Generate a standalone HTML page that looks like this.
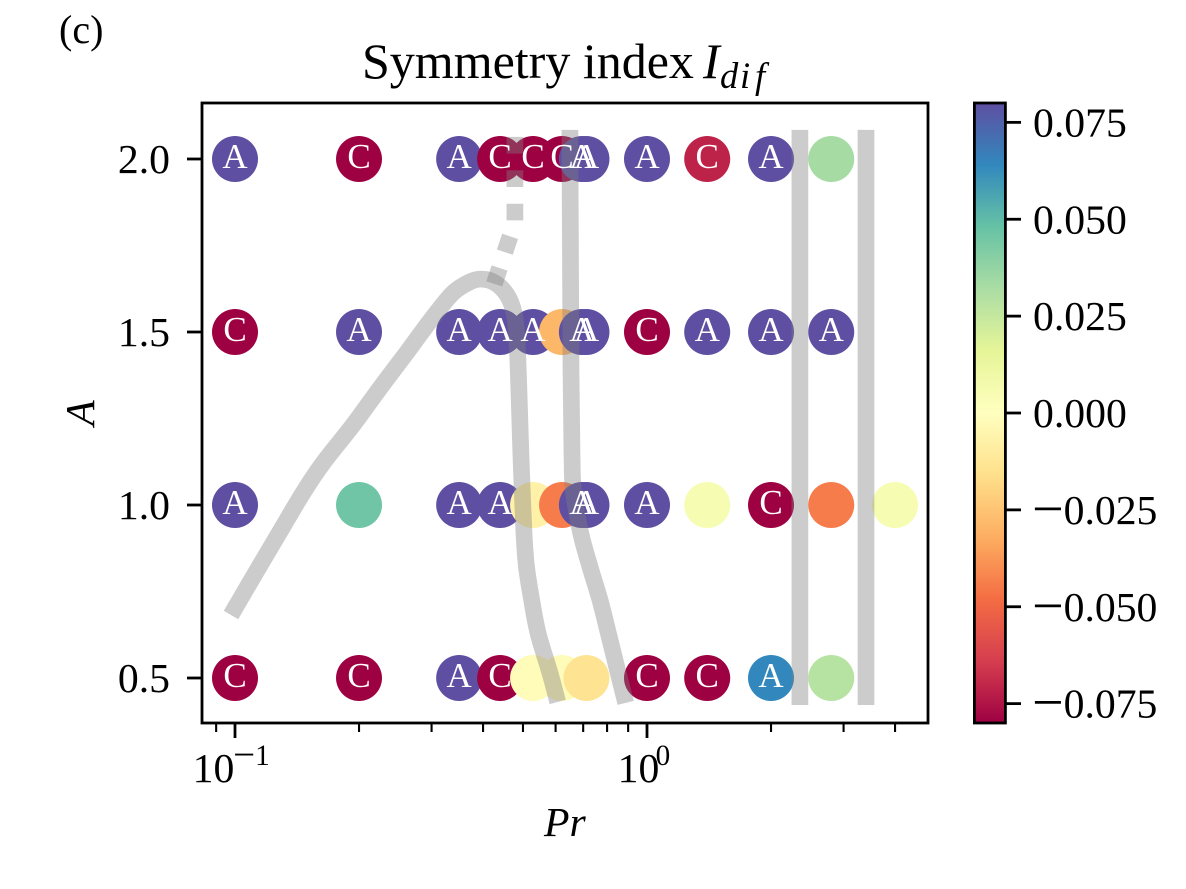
<!DOCTYPE html>
<html lang="en">
<head>
<meta charset="utf-8">
<title>Symmetry index chart</title>
<style>
html,body{margin:0;padding:0;background:#fff;}
svg{display:block;font-family:"Liberation Serif",serif;}
</style>
</head>
<body>
<svg id="chart" xmlns="http://www.w3.org/2000/svg" width="1186" height="889" viewBox="0 0 1186 889">
  <defs>
    <linearGradient id="cbar-gradient" x1="0" y1="1" x2="0" y2="0"></linearGradient>
  </defs>
  <rect x="0" y="0" width="1186" height="889" fill="#ffffff"/>
  <text x="59" y="43" font-size="40">(c)</text>
  <text x="362" y="78" font-size="50">Symmetry index</text>
  <text x="703" y="78" font-size="50" font-style="italic">I</text>
  <text y="88" font-size="36.5" font-style="italic"><tspan x="720">d</tspan><tspan x="740">i</tspan><tspan x="755">f</tspan></text>
  <text x="544" y="836" font-size="41.7" font-style="italic">Pr</text>
  <text transform="translate(94,413) rotate(-90)" text-anchor="middle" font-size="41.7" font-style="italic">A</text>
  <g id="circles"></g>
  <g id="lines"></g>
  <g id="labels"></g>
  <rect x="202" y="103" width="726" height="620" fill="none" stroke="#000" stroke-width="2.8"/>
  <g id="ticks"></g>
  <rect x="974.4" y="103" width="31" height="620" fill="url(#cbar-gradient)" stroke="#000" stroke-width="2.8"/>
  <g id="cbar-ticks"></g>
</svg>
<script>
// ---- data ----
const pointPr = [
  0.1, 0.2, 0.35, 0.44, 0.529, 0.622, 0.695, 0.713, 1, 1.4, 2, 2.8,
  0.1, 0.2, 0.35, 0.44, 0.529, 0.622, 0.695, 0.713, 1, 1.4, 2, 2.8,
  0.1, 0.2, 0.35, 0.44, 0.529, 0.622, 0.695, 0.713, 1, 1.4, 2, 2.8, 4,
  0.1, 0.2, 0.35, 0.44, 0.529, 0.622, 0.713, 1, 1.4, 2, 2.8
];
const pointA = [
  2, 2, 2, 2, 2, 2, 2, 2, 2, 2, 2, 2,
  1.5, 1.5, 1.5, 1.5, 1.5, 1.5, 1.5, 1.5, 1.5, 1.5, 1.5, 1.5,
  1, 1, 1, 1, 1, 1, 1, 1, 1, 1, 1, 1, 1,
  0.5, 0.5, 0.5, 0.5, 0.5, 0.5, 0.5, 0.5, 0.5, 0.5, 0.5
];
const pointIndex = [
  0.08, -0.08, 0.08, -0.08, -0.08, -0.08, 0.08, 0.08, 0.08, -0.071, 0.08, 0.033,
  -0.08, 0.08, 0.08, 0.08, 0.08, -0.029, 0.08, 0.08, -0.08, 0.08, 0.08, 0.08,
  0.08, 0.046, 0.08, 0.08, -0.007, -0.044, 0.08, 0.08, 0.08, 0.005, -0.08, -0.044, 0.005,
  -0.08, -0.08, 0.08, -0.08, -0.002, -0.002, -0.014, -0.08, -0.08, 0.064, 0.029
];
const pointLabel = [
  'A', 'C', 'A', 'C', 'C', 'C', 'A', 'A', 'A', 'C', 'A', '',
  'C', 'A', 'A', 'A', 'A', '', 'A', 'A', 'C', 'A', 'A', 'A',
  'A', '', 'A', 'A', '', '', 'A', 'A', 'A', '', 'C', '', '',
  'C', 'C', 'A', 'C', '', '', '', 'C', 'C', 'A', ''
];
const curve1Pr = [0.0978, 0.1108, 0.1286, 0.1462, 0.1635, 0.1934, 0.2249, 0.2616, 0.3024, 0.3382, 0.3719, 0.3977, 0.4276, 0.4575, 0.4757, 0.4836, 0.4891, 0.4948, 0.503, 0.5099, 0.525, 0.5438, 0.5815, 0.607];
const curve1A = [0.682, 0.793, 0.923, 1.035, 1.121, 1.231, 1.338, 1.442, 1.543, 1.613, 1.645, 1.653, 1.642, 1.607, 1.555, 1.477, 1.324, 1.13, 0.919, 0.821, 0.725, 0.63, 0.514, 0.431];
const curve2Pr = [0.65, 0.654, 0.658, 0.663, 0.6904, 0.7272, 0.7691, 0.813, 0.8877];
const curve2A = [2.084, 1.39, 1.13, 1.04, 0.919, 0.821, 0.725, 0.61, 0.428];
const curve3Pr = [0.478, 0.478, 0.425];
const curve3A = [2.064, 1.818, 1.636];
const line4Pr = [2.35, 2.35];
const line4A = [2.084, 0.422];
const line5Pr = [3.40, 3.40];
const line5A = [2.084, 0.422];
const yTickValues = [0.5, 1, 1.5, 2];
const yTickLabels = ['0.5', '1.0', '1.5', '2.0'];
const xMajorValues = [0.1, 1];
const xMajorBase = ['10', '10'];
const xMajorExp = ['\u22121', '0'];
const xMinorValues = [0.09, 0.2, 0.3, 0.4, 0.5, 0.6, 0.7, 0.8, 0.9, 2, 3, 4];
const cbarValues = [-0.075, -0.05, -0.025, 0, 0.025, 0.05, 0.075];
const cbarLabels = ['\u22120.075', '\u22120.050', '\u22120.025', '0.000', '0.025', '0.050', '0.075'];
const spectral = ['#9e0142', '#d53e4f', '#f46d43', '#fdae61', '#fee08b', '#ffffbf', '#e6f598', '#abdda4', '#66c2a5', '#3288bd', '#5e4fa2'];

// ---- scales ----
const NS = 'http://www.w3.org/2000/svg';
const xScale = function (pr) { return 647 + 412 * Math.log10(pr); };
const yScale = function (a) { return 159 + (2 - a) * 346; };
const cbarScale = function (v) { return 103 + (0.08 - v) / 0.16 * 620; };
function hexToRgb(h) {
  return [parseInt(h.substr(1, 2), 16), parseInt(h.substr(3, 2), 16), parseInt(h.substr(5, 2), 16)];
}
function colorFor(v) {
  let t = (v + 0.08) / 0.16;
  t = Math.max(0, Math.min(1, t)) * (spectral.length - 1);
  const i = Math.min(Math.floor(t), spectral.length - 2);
  const f = t - i;
  const a = hexToRgb(spectral[i]);
  const b = hexToRgb(spectral[i + 1]);
  return 'rgb(' + a.map(function (c, k) { return Math.round(c + (b[k] - c) * f); }).join(',') + ')';
}
function make(parent, tag, props, text) {
  const el = document.createElementNS(NS, tag);
  Object.keys(props).forEach(function (k) { el.setAttribute(k, props[k]); });
  if (text !== undefined) el.textContent = text;
  parent.appendChild(el);
  return el;
}

// ---- colorbar gradient ----
const grad = document.getElementById('cbar-gradient');
spectral.forEach(function (c, i) {
  make(grad, 'stop', { offset: (i / (spectral.length - 1)), 'stop-color': c });
});

// ---- points ----
const circleGroup = document.getElementById('circles');
const labelGroup = document.getElementById('labels');
const order = pointPr.map(function (_, i) { return i; }).sort(function (p, q) { return pointPr[p] - pointPr[q]; });
order.forEach(function (i) {
  const cx = xScale(pointPr[i]);
  const cy = yScale(pointA[i]);
  const c = make(circleGroup, 'circle', { cx: cx, cy: cy, r: 23, fill: colorFor(pointIndex[i]) });
  
  
  if (pointLabel[i]) {
    const t = make(labelGroup, 'text', { x: cx, y: cy + 9, 'text-anchor': 'middle', 'font-size': 35, fill: '#ffffff' }, pointLabel[i]);
    
    
  }
});

// ---- boundary lines ----
const lineGroup = document.getElementById('lines');
function smoothPath(xs, ys) {
  let d = 'M' + xs[0].toFixed(1) + ' ' + ys[0].toFixed(1);
  for (let i = 0; i < xs.length - 1; i++) {
    const p0 = Math.max(i - 1, 0);
    const p3 = Math.min(i + 2, xs.length - 1);
    const c1x = xs[i] + (xs[i + 1] - xs[p0]) / 6;
    const c1y = ys[i] + (ys[i + 1] - ys[p0]) / 6;
    const c2x = xs[i + 1] - (xs[p3] - xs[i]) / 6;
    const c2y = ys[i + 1] - (ys[p3] - ys[i]) / 6;
    d += 'C' + c1x.toFixed(1) + ' ' + c1y.toFixed(1) + ' ' + c2x.toFixed(1) + ' ' + c2y.toFixed(1) + ' ' + xs[i + 1].toFixed(1) + ' ' + ys[i + 1].toFixed(1);
  }
  return d;
}
function drawLine(prs, as, name, dash, smooth) {
  const xs = prs.map(xScale);
  const ys = as.map(yScale);
  let d;
  if (smooth) {
    d = smoothPath(xs, ys);
  } else {
    d = 'M' + xs.map(function (x, i) { return x.toFixed(1) + ' ' + ys[i].toFixed(1); }).join('L');
  }
  const pl = make(lineGroup, 'path', {
    d: d, fill: 'none', stroke: '#808080', 'stroke-opacity': 0.4,
    'stroke-width': 16.7, 'stroke-linejoin': 'round', 'stroke-linecap': 'butt'
  });
  if (dash) pl.setAttribute('stroke-dasharray', dash);
  
  
}
drawLine(curve1Pr, curve1A, 'boundary-curve-left', null, true);
drawLine(curve2Pr, curve2A, 'boundary-curve-middle', null, true);
drawLine(curve3Pr, curve3A, 'boundary-curve-dotted', '16.7 16.7', false);
drawLine(line4Pr, line4A, 'boundary-line-right-1', null, false);
drawLine(line5Pr, line5A, 'boundary-line-right-2', null, false);

// ---- axis ticks ----
const tickGroup = document.getElementById('ticks');
yTickValues.forEach(function (v, i) {
  const y = yScale(v);
  const tk = make(tickGroup, 'line', { x1: 187, x2: 202, y1: y, y2: y, stroke: '#000', 'stroke-width': 2.8 });
  
  
  const lb = make(tickGroup, 'text', { x: 170, y: y + 14, 'text-anchor': 'end', 'font-size': 41.7 }, yTickLabels[i]);
  
  
});
xMinorValues.forEach(function (v) {
  const x = xScale(v);
  const tk = make(tickGroup, 'line', { x1: x, x2: x, y1: 723, y2: 732, stroke: '#000', 'stroke-width': 2.1 });
  
  
});
xMajorValues.forEach(function (v, i) {
  const x = xScale(v);
  const tk = make(tickGroup, 'line', { x1: x, x2: x, y1: 723, y2: 738, stroke: '#000', 'stroke-width': 2.8 });
  
  
  const isNeg = xMajorExp[i].charAt(0) === '\u2212';
  const left = x - (41.7 + (isNeg ? 43 : 17)) / 2;
  const base = make(tickGroup, 'text', { x: left, y: 782, 'font-size': 41.7 }, xMajorBase[i]);
  
  
  const exp = make(tickGroup, 'text', { x: left + (isNeg ? 40.5 : 38), y: 765, 'font-size': 29.2 });
  
  
  if (isNeg) {
    const m = make(exp, 'tspan', { 'font-size': 39, dy: 2.4 }, '\u2212');
    
    
    const d = make(exp, 'tspan', { dy: -2.4 }, xMajorExp[i].slice(1));
    
    
  } else {
    exp.textContent = xMajorExp[i];
  }
});

// ---- colorbar ticks ----
const cbarGroup = document.getElementById('cbar-ticks');
cbarValues.forEach(function (v, i) {
  const y = cbarScale(v);
  const tk = make(cbarGroup, 'line', { x1: 1005.4, x2: 1021, y1: y, y2: y, stroke: '#000', 'stroke-width': 2.8 });
  
  
  const isNeg = cbarLabels[i].charAt(0) === '\u2212';
  const lb = make(cbarGroup, 'text', { x: isNeg ? 1032 : 1033, y: y + 14, 'font-size': 41.7 });
  
  
  if (isNeg) {
    const m = make(lb, 'tspan', { 'font-size': 56, dy: 3.5 }, '\u2212');
    
    
    const d = make(lb, 'tspan', { dy: -3.5 }, cbarLabels[i].slice(1));
    
    
  } else {
    lb.textContent = cbarLabels[i];
  }
});
</script>
</body>
</html>
